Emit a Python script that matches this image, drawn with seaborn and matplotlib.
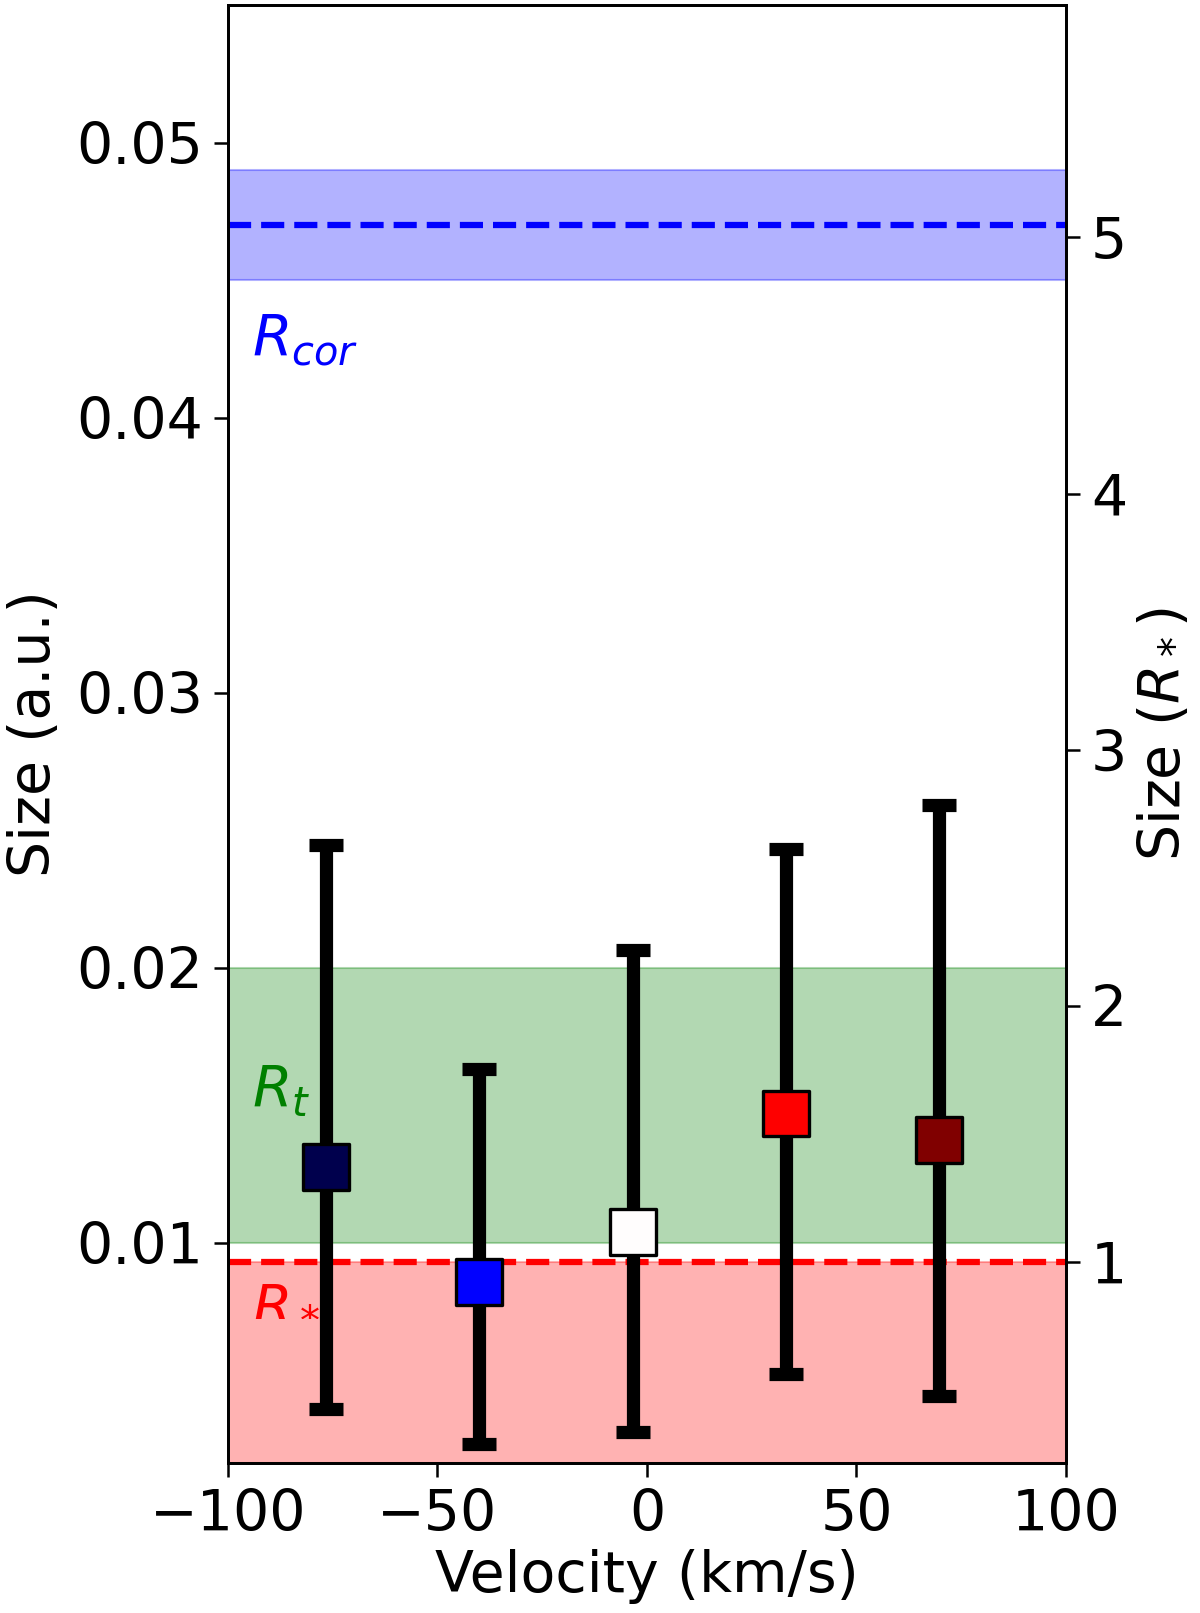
import numpy as np
import pandas as pd
import matplotlib
matplotlib.use("Agg")
import matplotlib.pyplot as plt
import seaborn as sns

# measured sizes vs. velocity
velocity = [-76.6, -40.1, -3.3, 33.2, 69.7]
size_au = [0.01275, 0.00858, 0.0104, 0.01471, 0.01373]
size_low = [0.00398, 0.00269, 0.00311, 0.00524, 0.00442]
size_high = [0.02447, 0.01633, 0.02065, 0.02431, 0.02592]

# reference radii (a.u.)
r_star = 0.00931
r_cor = 0.0470
r_cor_band = [0.0450, 0.0490]
r_t_band = [0.010, 0.020]

xlim = (-100, 100)
ylim = (0.002, 0.055)

sns.set_style("ticks")
plt.rcParams['font.family'] = ['DejaVu Sans']
plt.rcParams['mathtext.fontset'] = 'dejavusans'
for k in ('text.color', 'axes.labelcolor', 'xtick.color', 'ytick.color', 'axes.edgecolor'):
    plt.rcParams[k] = 'black'

FS = 41

fig = plt.figure(figsize=(12, 16.13), dpi=100)
ax = fig.add_axes([0.19, 0.093, 0.6983, 0.9039])

# bands
ax.axhspan(r_cor_band[0], r_cor_band[1], color='blue', alpha=0.3, lw=1.5)
ax.axhspan(r_t_band[0], r_t_band[1], color='green', alpha=0.3, lw=1.5)
ax.axhspan(ylim[0], r_star, color='red', alpha=0.3, lw=1.5)
ax.axhline(r_cor, color='blue', ls='--', lw=4.5)
ax.axhline(r_star, color='red', ls='--', lw=4.5)

# error bars
y = np.array(size_au)
yerr = [y - np.array(size_low), np.array(size_high) - y]
ax.errorbar(velocity, size_au, yerr=yerr, fmt='none', ecolor='black',
            elinewidth=9.5, capsize=12, capthick=9.5, zorder=3)

# markers coloured along the seismic map
df = pd.DataFrame({'velocity': velocity, 'size': size_au,
                   'idx': [str(i) for i in range(len(velocity))]})
colors = [plt.cm.seismic(v) for v in np.linspace(0, 1, len(velocity))]
sns.scatterplot(data=df, x='velocity', y='size', hue='idx', palette=colors,
                marker='s', s=1080, edgecolor='black', linewidth=2.4,
                legend=False, zorder=4, ax=ax)

# labels for the bands
ax.text(-94.3, 0.04225, r'$R_{cor}$', color='blue', fontsize=FS, va='baseline')
ax.text(-94.3, 0.01495, r'$R_t$', color='green', fontsize=FS, va='baseline')
ax.text(-94.3, 0.00731, r'$R_*$', color='red', fontsize=FS, va='baseline')

ax.set_xlim(*xlim)
ax.set_ylim(*ylim)
ax.set_xticks([-100, -50, 0, 50, 100])
ax.set_yticks([0.01, 0.02, 0.03, 0.04, 0.05])
ax.set_xlabel('Velocity (km/s)', fontsize=FS, labelpad=4)
ax.set_ylabel('Size (a.u.)', fontsize=FS, labelpad=10)
ax.tick_params(labelsize=FS, length=10, width=1.8, pad=8)

ax2 = ax.twinx()
ax2.set_ylim(ylim[0] / r_star, ylim[1] / r_star)
ax2.set_yticks([1, 2, 3, 4, 5])
ax2.set_ylabel(r'Size ($R_*$)', fontsize=FS, labelpad=6)
ax2.tick_params(labelsize=FS, length=10, width=1.8, pad=8)

for a in (ax, ax2):
    for sp in a.spines.values():
        sp.set_linewidth(2.0)
        sp.set_visible(True)

fig.savefig('out.png', dpi=100)
